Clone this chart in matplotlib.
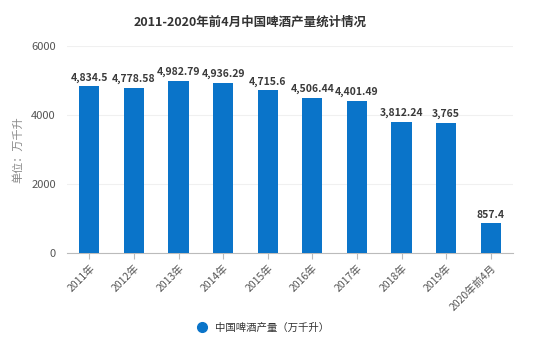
import matplotlib
matplotlib.use('Agg')
import matplotlib.pyplot as plt
from matplotlib.lines import Line2D

plt.rcParams['font.family'] = ['Noto Sans CJK SC', 'DejaVu Sans']

years = ['2011年', '2012年', '2013年', '2014年', '2015年', '2016年',
         '2017年', '2018年', '2019年', '2020年前4月']
output = [4834.5, 4778.58, 4982.79, 4936.29, 4715.6, 4506.44,
          4401.49, 3812.24, 3765, 857.4]
labels = ['4,834.5', '4,778.58', '4,982.79', '4,936.29', '4,715.6', '4,506.44',
          '4,401.49', '3,812.24', '3,765', '857.4']

blue = '#0a74c9'

fig = plt.figure(figsize=(5.54, 3.47), dpi=100)
ax = fig.add_axes([0.121, 0.271, 0.805, 0.596])

x = list(range(len(years)))
bars = ax.bar(x, output, width=0.45, color=blue, zorder=3)
for xi, v, lab in zip(x, output, labels):
    ax.text(xi, v + 110, lab, ha='center', va='bottom', fontsize=7.5,
            fontweight='bold', color='#3a3a3a')

ax.set_xlim(-0.5, len(years) - 0.5)
ax.set_ylim(0, 6000)
ax.set_yticks([0, 2000, 4000, 6000])
ax.set_yticklabels(['0', '2000', '4000', '6000'])
ax.set_xticks(x)
ax.set_xticklabels(years, rotation=45, ha='right', rotation_mode='anchor')
ax.tick_params(axis='y', length=0, labelsize=8, labelcolor='#555555', pad=8)
ax.tick_params(axis='x', length=4, color='#bbbbbb', labelsize=7.5,
               labelcolor='#555555', pad=3)
ax.grid(axis='y', color='#f0f0f0', linewidth=0.8, zorder=0)
for s in ['top', 'right', 'left']:
    ax.spines[s].set_visible(False)
ax.spines['bottom'].set_color('#bbbbbb')

ax.set_ylabel('单位：万千升', fontsize=8, color='#888888', labelpad=6)

fig.text(0.451, 0.937, '2011-2020年前4月中国啤酒产量统计情况', ha='center',
         va='center', fontsize=9, fontweight='bold', color='#333333')

handle = Line2D([], [], marker='o', linestyle='none', markersize=7,
                markerfacecolor=blue, markeredgecolor=blue)
fig.legend([handle], ['中国啤酒产量（万千升）'], loc='center',
           bbox_to_anchor=(0.47, 0.055), frameon=False, fontsize=7.5,
           handletextpad=0.3, labelcolor='#333333')

fig.savefig('out.png', dpi=100)
